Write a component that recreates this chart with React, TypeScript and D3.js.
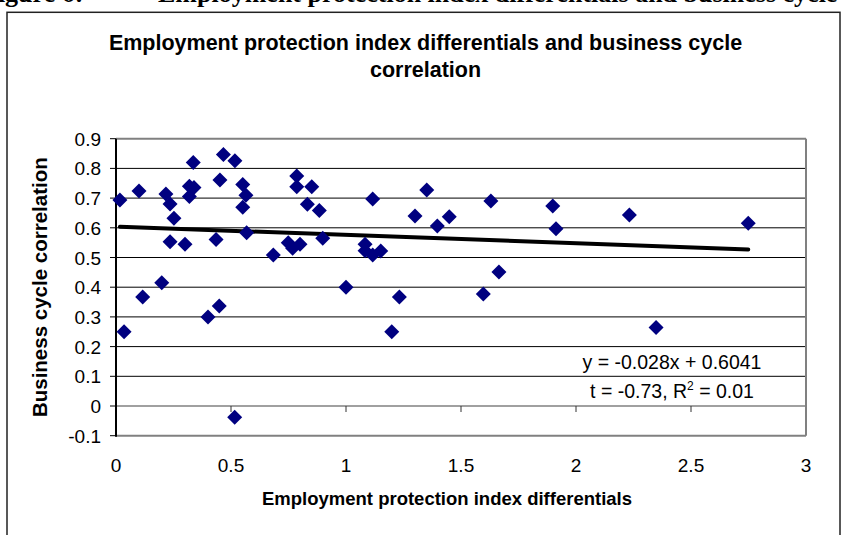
import React from "react";
import * as d3 from "d3";

const xValues = [0.017, 0.035, 0.10, 0.116, 0.199, 0.217, 0.235, 0.235, 0.252, 0.30, 0.319, 0.319, 0.336, 0.339, 0.40, 0.435, 0.449, 0.452, 0.467, 0.516, 0.517, 0.551, 0.565, 0.551, 0.568, 0.684, 0.749, 0.768, 0.786, 0.786, 0.80, 0.832, 0.851, 0.884, 0.899, 1.0, 1.083, 1.083, 1.116, 1.116, 1.151, 1.199, 1.232, 1.30, 1.351, 1.397, 1.449, 1.597, 1.630, 1.665, 1.899, 1.913, 2.232, 2.348, 2.749];
const yValues = [0.694, 0.25, 0.724, 0.367, 0.415, 0.714, 0.68, 0.553, 0.632, 0.545, 0.74, 0.705, 0.82, 0.736, 0.30, 0.561, 0.337, 0.761, 0.847, -0.038, 0.826, 0.746, 0.71, 0.669, 0.583, 0.508, 0.55, 0.531, 0.774, 0.738, 0.545, 0.679, 0.738, 0.658, 0.565, 0.40, 0.545, 0.523, 0.697, 0.508, 0.522, 0.25, 0.367, 0.64, 0.727, 0.606, 0.637, 0.377, 0.69, 0.451, 0.673, 0.597, 0.643, 0.264, 0.615];
const xTicks = [0, 0.5, 1, 1.5, 2, 2.5, 3];
const yTicks = [-0.1, 0, 0.1, 0.2, 0.3, 0.4, 0.5, 0.6, 0.7, 0.8, 0.9];
const slope = -0.028;
const intercept = 0.6041;
const headerLabel = "Figure 6:";
const headerText = "Employment protection index differentials and business cycle correlation";
const titleLines = ["Employment protection index differentials and business cycle", "correlation"];
const xTitle = "Employment protection index differentials";
const yTitle = "Business cycle correlation";
const eqText = "y = -0.028x + 0.6041";

const W = 843, H = 535;
const L = 116, R = 806, T = 138.7, B = 435.7;

export default function App() {
  const x = d3.scaleLinear().domain([0, 3]).range([L, R]);
  const y = d3.scaleLinear().domain([-0.1, 0.9]).range([B, T]);
  const fmt = (v: number) => (Math.round(v * 10) / 10).toString();
  const xMin = d3.min(xValues)!;
  const xMax = d3.max(xValues)!;
  const line = d3.line<number>().x((v) => x(v)).y((v) => y(slope * v + intercept));
  const diamond = (cx: number, cy: number, r: number) =>
    `M${cx},${cy - r}L${cx + r},${cy}L${cx},${cy + r}L${cx - r},${cy}Z`;
  const font = "'Liberation Sans', Arial, sans-serif";
  const serif = "'Liberation Serif', 'Times New Roman', serif";
  return (
    <svg width={W} height={H} style={{ position: "absolute", left: 0, top: 0 }} fontFamily={font}>
      <rect width={W} height={H} fill="#fff" />
      <text x={-18} y={2} fontFamily={serif} fontWeight="bold" fontSize={26}>
        {headerLabel}
      </text>
      <text x={158} y={2} fontFamily={serif} fontWeight="bold" fontSize={26}>
        {headerText}
      </text>
      <rect x={7} y={12.3} width={833} height={H} fill="#fff" stroke="#222" strokeWidth={1.5} />
      {titleLines.map((t, i) => (
        <text key={i} x={425.5} y={50 + i * 27} textAnchor="middle" fontWeight="bold" fontSize={21.5}>
          {t}
        </text>
      ))}
      {yTicks.filter((v) => v > -0.1 && v < 0.9 && Math.abs(v) > 1e-9).map((v) => (
        <line key={v} x1={L} x2={R} y1={y(v)} y2={y(v)} stroke="#000" strokeWidth={1} />
      ))}
      <line x1={L} x2={R} y1={y(0)} y2={y(0)} stroke="#808080" strokeWidth={1.5} />
      {xTicks.filter((v) => v > 0).map((v) => (
        <line key={v} x1={x(v)} x2={x(v)} y1={y(0)} y2={y(0) + 6} stroke="#333" strokeWidth={1} />
      ))}
      <line x1={L} x2={R} y1={T} y2={T} stroke="#808080" strokeWidth={2} />
      <line x1={R} x2={R} y1={T} y2={B} stroke="#808080" strokeWidth={2} />
      <line x1={L} x2={R} y1={B} y2={B} stroke="#808080" strokeWidth={2} />
      <line x1={L} x2={L} y1={T} y2={B + 1} stroke="#000" strokeWidth={2} />
      {yTicks.map((v) => (
        <g key={v}>
          <line x1={L - 6} x2={L} y1={y(v)} y2={y(v)} stroke="#000" strokeWidth={1} />
          <text x={101} y={y(v) + 7} textAnchor="end" fontSize={19}>
            {fmt(v)}
          </text>
        </g>
      ))}
      {xTicks.map((v) => (
        <text key={v} x={x(v)} y={471.5} textAnchor="middle" fontSize={19}>
          {fmt(v)}
        </text>
      ))}
      <text x={x(1.5) - 14} y={505} textAnchor="middle" fontWeight="bold" fontSize={18.5}>
        {xTitle}
      </text>
      <text transform={`translate(47,${(T + B) / 2}) rotate(-90)`} textAnchor="middle" fontWeight="bold" fontSize={20.5}>
        {yTitle}
      </text>
      <path d={line([xMin, xMax])!} stroke="#000" strokeWidth={4} strokeLinecap="round" fill="none" />
      {xValues.map((xv, i) => (
        <path key={i} d={diamond(x(xv), y(yValues[i]), 7.5)} fill="#000080" />
      ))}
      <text x={672} y={369} textAnchor="middle" fontSize={19.5}>
        {eqText}
      </text>
      <text x={672} y={398.3} textAnchor="middle" fontSize={19.5}>
        <tspan>t = -0.73, R</tspan>
        <tspan dy={-8} fontSize={12}>2</tspan>
        <tspan dy={8}> = 0.01</tspan>
      </text>
    </svg>
  );
}
